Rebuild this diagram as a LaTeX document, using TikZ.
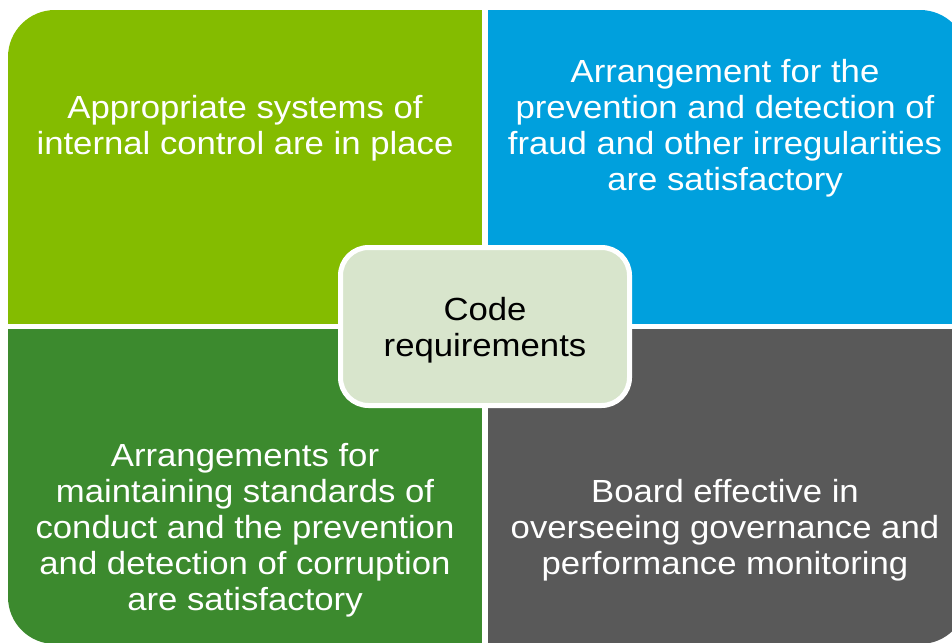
\documentclass[tikz,border=0pt]{standalone}
\usepackage{fontspec}
\setmainfont{Liberation Sans}[FakeStretch=1.085]
\definecolor{tlcol}{HTML}{84BC00}
\definecolor{trcol}{HTML}{00A0DD}
\definecolor{blcol}{HTML}{3C8A2E}
\definecolor{brcol}{HTML}{595959}
\definecolor{ctrcol}{HTML}{D8E5CC}
\tikzset{
  quadtext/.style={align=center, text=white, font=\fontsize{32}{36}\selectfont, inner sep=0pt},
  ctrbox/.style={draw=white, line width=5pt, fill=ctrcol, rounded corners=28pt,
    minimum width=289pt, minimum height=158pt, text=black,
    font=\fontsize{32}{36}\selectfont}
}
\begin{document}
\begin{tikzpicture}[x=1pt,y=-1pt]
\useasboundingbox (0,0) rectangle (952,642);
\fill[white] (0,0) rectangle (952,642);
\begin{scope}
  \clip[rounded corners=47pt] (8,10) rectangle (967,644);
  \fill[tlcol] (8,10) rectangle (482,324);
  \fill[trcol] (488,10) rectangle (967,324);
  \fill[blcol] (8,329) rectangle (482,644);
  \fill[brcol] (488,329) rectangle (967,644);
\end{scope}
\node[quadtext] (tl) at (245,128) {Appropriate systems of\\internal control are in place};
\node[quadtext] (tr) at (725,128.5) {Arrangement for the\\prevention and detection of\\fraud and other irregularities\\are satisfactory};
\node[quadtext] (bl) at (245,530) {Arrangements for\\maintaining standards of\\conduct and the prevention\\and detection of corruption\\are satisfactory};
\node[quadtext] (br) at (725,530.5) {Board effective in\\overseeing governance and\\performance monitoring};
\node[ctrbox] (ctr) at (485,326.5) {\raisebox{-3.5pt}[\height][\depth]{\parbox{280pt}{\centering Code\\requirements}}};
\end{tikzpicture}
\end{document}
